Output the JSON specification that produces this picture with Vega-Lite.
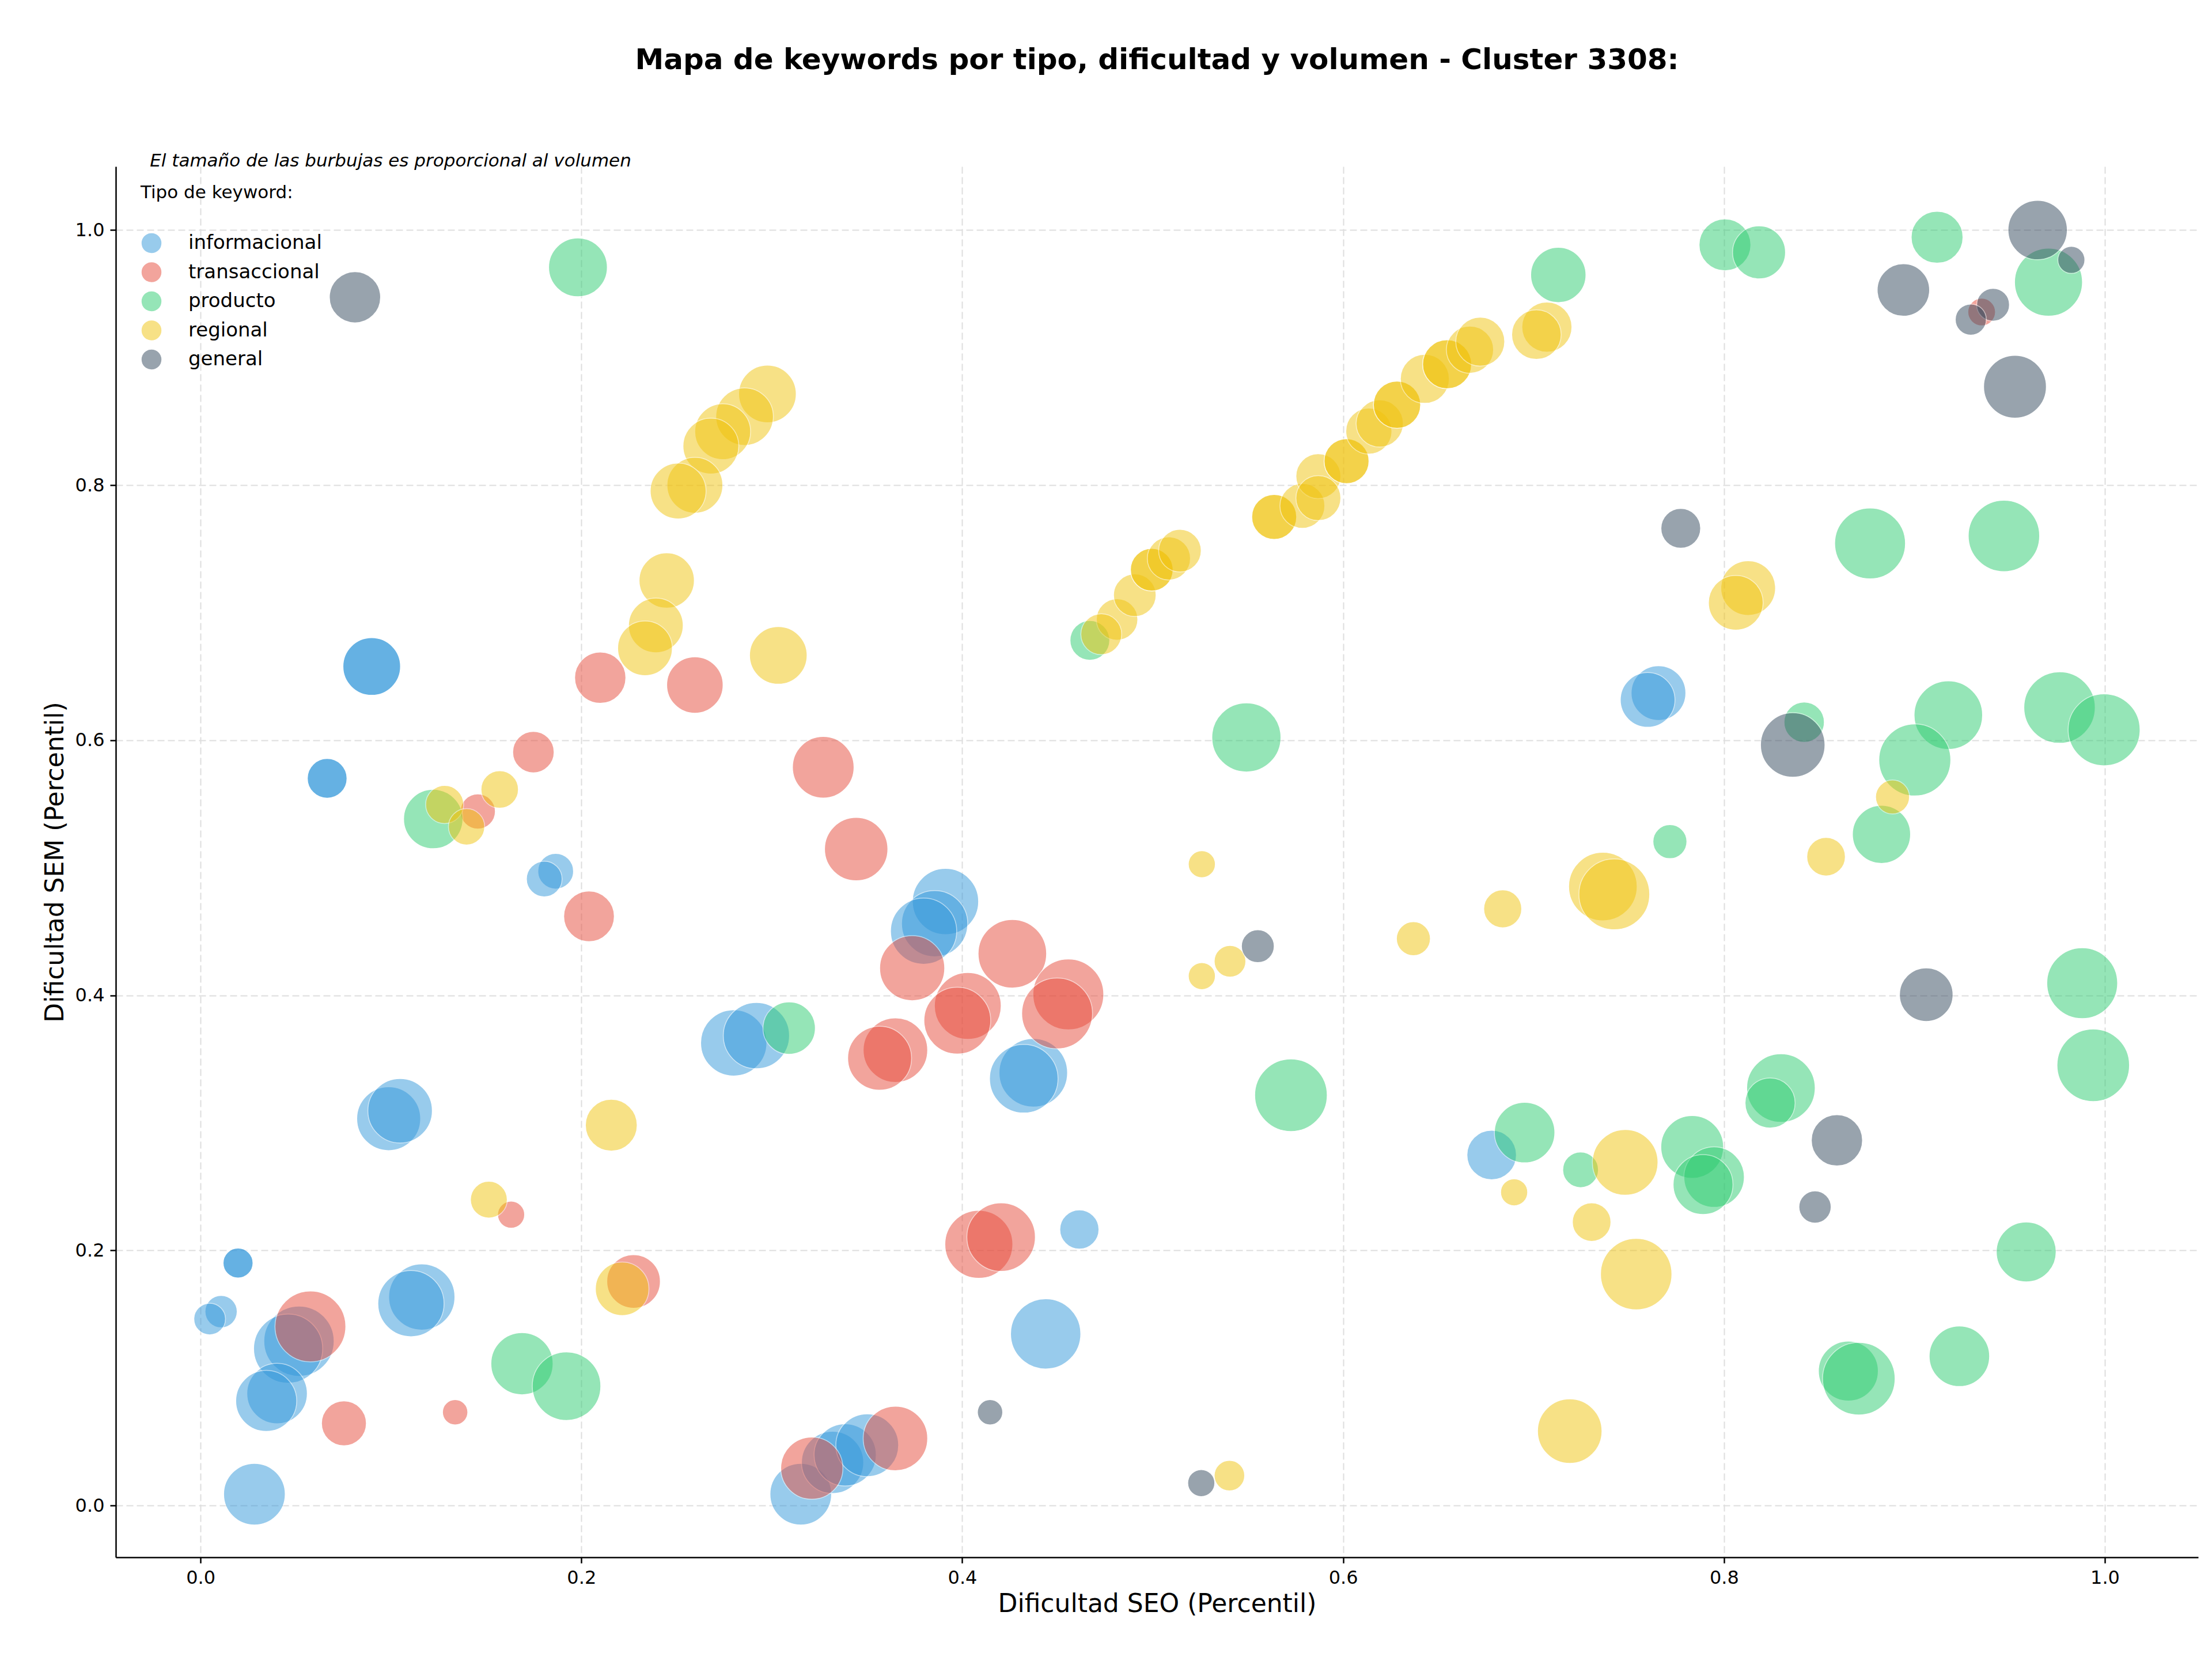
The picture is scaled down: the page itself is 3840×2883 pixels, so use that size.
{
  "$schema": "https://vega.github.io/schema/vega-lite/v6.json",
  "width": 3615,
  "height": 2414,
  "autosize": {"type": "none"},
  "padding": {"left": 201, "top": 289, "right": 24, "bottom": 180},
  "background": "white",
  "title": {
    "text": "Mapa de keywords por tipo, dificultad y volumen - Cluster 3308:",
    "font": "DejaVu Sans",
    "fontSize": 50,
    "fontWeight": "bold",
    "color": "black",
    "anchor": "middle",
    "baseline": "alphabetic",
    "offset": 94
  },
  "config": {
    "font": "DejaVu Sans",
    "view": {"stroke": null},
    "axis": {
      "labelFont": "DejaVu Sans",
      "labelFontSize": 32,
      "labelColor": "black",
      "titleFont": "DejaVu Sans",
      "titleFontSize": 44,
      "titleFontWeight": "normal",
      "titleColor": "black",
      "domainColor": "black",
      "domainWidth": 2.5,
      "tickColor": "black",
      "tickWidth": 2.5,
      "tickSize": 10,
      "labelPadding": 10,
      "grid": true,
      "gridColor": "#dedede",
      "gridWidth": 2,
      "gridDash": [12, 6]
    },
    "legend": {
      "orient": "none",
      "legendX": 43,
      "legendY": 31,
      "padding": 0,
      "titleFont": "DejaVu Sans",
      "titleFontSize": 31,
      "titleFontWeight": "normal",
      "titleColor": "black",
      "titlePadding": 52,
      "titleLimit": 800,
      "labelFont": "DejaVu Sans",
      "labelFontSize": 34,
      "labelColor": "black",
      "labelLimit": 800,
      "labelOffset": 45,
      "rowPadding": 8.5,
      "symbolType": "circle",
      "symbolSize": 1296,
      "symbolOpacity": 0.5,
      "symbolStrokeColor": "white",
      "symbolStrokeWidth": 1.5
    }
  },
  "layer": [
    {
      "data": {
        "values": [
          {"tipo": "informacional", "seo": 0.0899, "sem": 0.6578, "volumen": 6250},
          {"tipo": "informacional", "seo": 0.0899, "sem": 0.6578, "volumen": 6250},
          {"tipo": "informacional", "seo": 0.0665, "sem": 0.5701, "volumen": 2976},
          {"tipo": "informacional", "seo": 0.0665, "sem": 0.5701, "volumen": 2976},
          {"tipo": "informacional", "seo": 0.0197, "sem": 0.1901, "volumen": 1690},
          {"tipo": "informacional", "seo": 0.0197, "sem": 0.1901, "volumen": 1690},
          {"tipo": "informacional", "seo": 0.1865, "sem": 0.4973, "volumen": 2403},
          {"tipo": "informacional", "seo": 0.1805, "sem": 0.4912, "volumen": 2403},
          {"tipo": "informacional", "seo": 0.2800, "sem": 0.3627, "volumen": 8266},
          {"tipo": "informacional", "seo": 0.2919, "sem": 0.3684, "volumen": 8266},
          {"tipo": "informacional", "seo": 0.0988, "sem": 0.3033, "volumen": 7701},
          {"tipo": "informacional", "seo": 0.1048, "sem": 0.3095, "volumen": 7840},
          {"tipo": "informacional", "seo": 0.0108, "sem": 0.1520, "volumen": 1960},
          {"tipo": "informacional", "seo": 0.0048, "sem": 0.1462, "volumen": 1891},
          {"tipo": "informacional", "seo": 0.1162, "sem": 0.1635, "volumen": 8266},
          {"tipo": "informacional", "seo": 0.1105, "sem": 0.1583, "volumen": 8266},
          {"tipo": "informacional", "seo": 0.0517, "sem": 0.1288, "volumen": 9303},
          {"tipo": "informacional", "seo": 0.0460, "sem": 0.1230, "volumen": 9000},
          {"tipo": "informacional", "seo": 0.0402, "sem": 0.0878, "volumen": 6891},
          {"tipo": "informacional", "seo": 0.0345, "sem": 0.0820, "volumen": 7023},
          {"tipo": "informacional", "seo": 0.0283, "sem": 0.0089, "volumen": 7156},
          {"tipo": "informacional", "seo": 0.3152, "sem": 0.0089, "volumen": 7156},
          {"tipo": "informacional", "seo": 0.3319, "sem": 0.0338, "volumen": 7290},
          {"tipo": "informacional", "seo": 0.3385, "sem": 0.0397, "volumen": 7290},
          {"tipo": "informacional", "seo": 0.3501, "sem": 0.0473, "volumen": 7426},
          {"tipo": "informacional", "seo": 0.6780, "sem": 0.2748, "volumen": 4623},
          {"tipo": "informacional", "seo": 0.4615, "sem": 0.2164, "volumen": 2890},
          {"tipo": "informacional", "seo": 0.4438, "sem": 0.1346, "volumen": 9303},
          {"tipo": "informacional", "seo": 0.3912, "sem": 0.4735, "volumen": 8266},
          {"tipo": "informacional", "seo": 0.3855, "sem": 0.4562, "volumen": 8266},
          {"tipo": "informacional", "seo": 0.3797, "sem": 0.4503, "volumen": 8266},
          {"tipo": "informacional", "seo": 0.4373, "sem": 0.3393, "volumen": 8851},
          {"tipo": "informacional", "seo": 0.4323, "sem": 0.3346, "volumen": 8851},
          {"tipo": "informacional", "seo": 0.7656, "sem": 0.6370, "volumen": 5641},
          {"tipo": "informacional", "seo": 0.7599, "sem": 0.6316, "volumen": 5641},

          {"tipo": "transaccional", "seo": 0.2099, "sem": 0.6490, "volumen": 4951},
          {"tipo": "transaccional", "seo": 0.2596, "sem": 0.6433, "volumen": 6003},
          {"tipo": "transaccional", "seo": 0.1748, "sem": 0.5907, "volumen": 3240},
          {"tipo": "transaccional", "seo": 0.3270, "sem": 0.5788, "volumen": 7156},
          {"tipo": "transaccional", "seo": 0.1456, "sem": 0.5441, "volumen": 2326},
          {"tipo": "transaccional", "seo": 0.2040, "sem": 0.4619, "volumen": 4840},
          {"tipo": "transaccional", "seo": 0.3443, "sem": 0.5146, "volumen": 7563},
          {"tipo": "transaccional", "seo": 0.3737, "sem": 0.4213, "volumen": 7981},
          {"tipo": "transaccional", "seo": 0.4263, "sem": 0.4326, "volumen": 8851},
          {"tipo": "transaccional", "seo": 0.4029, "sem": 0.3917, "volumen": 8410},
          {"tipo": "transaccional", "seo": 0.3974, "sem": 0.3802, "volumen": 8410},
          {"tipo": "transaccional", "seo": 0.4557, "sem": 0.4007, "volumen": 9456},
          {"tipo": "transaccional", "seo": 0.4498, "sem": 0.3858, "volumen": 9456},
          {"tipo": "transaccional", "seo": 0.3649, "sem": 0.3570, "volumen": 7840},
          {"tipo": "transaccional", "seo": 0.3566, "sem": 0.3507, "volumen": 7701},
          {"tipo": "transaccional", "seo": 0.1631, "sem": 0.2280, "volumen": 1381},
          {"tipo": "transaccional", "seo": 0.0577, "sem": 0.1404, "volumen": 9456},
          {"tipo": "transaccional", "seo": 0.0753, "sem": 0.0644, "volumen": 3803},
          {"tipo": "transaccional", "seo": 0.1337, "sem": 0.0731, "volumen": 1210},
          {"tipo": "transaccional", "seo": 0.2274, "sem": 0.1757, "volumen": 5406},
          {"tipo": "transaccional", "seo": 0.4087, "sem": 0.2048, "volumen": 8703},
          {"tipo": "transaccional", "seo": 0.4204, "sem": 0.2104, "volumen": 8851},
          {"tipo": "transaccional", "seo": 0.3210, "sem": 0.0293, "volumen": 7290},
          {"tipo": "transaccional", "seo": 0.3649, "sem": 0.0526, "volumen": 7840},
          {"tipo": "transaccional", "seo": 0.9353, "sem": 0.9357, "volumen": 1440},

          {"tipo": "producto", "seo": 0.1982, "sem": 0.9707, "volumen": 6503},
          {"tipo": "producto", "seo": 0.7130, "sem": 0.9648, "volumen": 5760},
          {"tipo": "producto", "seo": 0.8005, "sem": 0.9884, "volumen": 5063},
          {"tipo": "producto", "seo": 0.8184, "sem": 0.9825, "volumen": 5290},
          {"tipo": "producto", "seo": 0.9119, "sem": 0.9943, "volumen": 5063},
          {"tipo": "producto", "seo": 0.9704, "sem": 0.9591, "volumen": 8703},
          {"tipo": "producto", "seo": 0.8767, "sem": 0.7543, "volumen": 9456},
          {"tipo": "producto", "seo": 0.9470, "sem": 0.7602, "volumen": 9610},
          {"tipo": "producto", "seo": 0.4670, "sem": 0.6783, "volumen": 2976},
          {"tipo": "producto", "seo": 0.5492, "sem": 0.6022, "volumen": 9000},
          {"tipo": "producto", "seo": 0.1222, "sem": 0.5382, "volumen": 6631},
          {"tipo": "producto", "seo": 0.3091, "sem": 0.3743, "volumen": 5176},
          {"tipo": "producto", "seo": 0.1688, "sem": 0.1112, "volumen": 7290},
          {"tipo": "producto", "seo": 0.1922, "sem": 0.0936, "volumen": 8851},
          {"tipo": "producto", "seo": 0.5726, "sem": 0.3217, "volumen": 9923},
          {"tipo": "producto", "seo": 0.8421, "sem": 0.6141, "volumen": 3063},
          {"tipo": "producto", "seo": 0.9178, "sem": 0.6197, "volumen": 8851},
          {"tipo": "producto", "seo": 0.9002, "sem": 0.5845, "volumen": 9766},
          {"tipo": "producto", "seo": 0.9762, "sem": 0.6256, "volumen": 9610},
          {"tipo": "producto", "seo": 0.9996, "sem": 0.6082, "volumen": 9766},
          {"tipo": "producto", "seo": 0.8827, "sem": 0.5262, "volumen": 6376},
          {"tipo": "producto", "seo": 0.7716, "sem": 0.5205, "volumen": 2176},
          {"tipo": "producto", "seo": 0.9881, "sem": 0.4095, "volumen": 9456},
          {"tipo": "producto", "seo": 0.9939, "sem": 0.3452, "volumen": 9923},
          {"tipo": "producto", "seo": 0.8299, "sem": 0.3273, "volumen": 8851},
          {"tipo": "producto", "seo": 0.8242, "sem": 0.3156, "volumen": 4731},
          {"tipo": "producto", "seo": 0.6953, "sem": 0.2924, "volumen": 6891},
          {"tipo": "producto", "seo": 0.7247, "sem": 0.2632, "volumen": 2403},
          {"tipo": "producto", "seo": 0.7833, "sem": 0.2811, "volumen": 7426},
          {"tipo": "producto", "seo": 0.7948, "sem": 0.2575, "volumen": 6891},
          {"tipo": "producto", "seo": 0.7890, "sem": 0.2517, "volumen": 6760},
          {"tipo": "producto", "seo": 0.9587, "sem": 0.1988, "volumen": 6760},
          {"tipo": "producto", "seo": 0.9236, "sem": 0.1170, "volumen": 6891},
          {"tipo": "producto", "seo": 0.8653, "sem": 0.1054, "volumen": 6760},
          {"tipo": "producto", "seo": 0.8708, "sem": 0.0994, "volumen": 9923},

          {"tipo": "regional", "seo": 0.2977, "sem": 0.8715, "volumen": 6250},
          {"tipo": "regional", "seo": 0.2857, "sem": 0.8537, "volumen": 6250},
          {"tipo": "regional", "seo": 0.2742, "sem": 0.8419, "volumen": 5881},
          {"tipo": "regional", "seo": 0.2680, "sem": 0.8306, "volumen": 5881},
          {"tipo": "regional", "seo": 0.2596, "sem": 0.7999, "volumen": 5881},
          {"tipo": "regional", "seo": 0.2508, "sem": 0.7954, "volumen": 5881},
          {"tipo": "regional", "seo": 0.2448, "sem": 0.7252, "volumen": 5760},
          {"tipo": "regional", "seo": 0.2391, "sem": 0.6900, "volumen": 5641},
          {"tipo": "regional", "seo": 0.2334, "sem": 0.6721, "volumen": 5641},
          {"tipo": "regional", "seo": 0.3034, "sem": 0.6665, "volumen": 6250},
          {"tipo": "regional", "seo": 0.1282, "sem": 0.5496, "volumen": 2723},
          {"tipo": "regional", "seo": 0.1397, "sem": 0.5321, "volumen": 2481},
          {"tipo": "regional", "seo": 0.1571, "sem": 0.5614, "volumen": 2641},
          {"tipo": "regional", "seo": 0.2157, "sem": 0.2982, "volumen": 5063},
          {"tipo": "regional", "seo": 0.1514, "sem": 0.2398, "volumen": 2560},
          {"tipo": "regional", "seo": 0.2214, "sem": 0.1699, "volumen": 5406},
          {"tipo": "regional", "seo": 0.4813, "sem": 0.6947, "volumen": 3240},
          {"tipo": "regional", "seo": 0.4730, "sem": 0.6831, "volumen": 3151},
          {"tipo": "regional", "seo": 0.4906, "sem": 0.7137, "volumen": 3423},
          {"tipo": "regional", "seo": 0.4995, "sem": 0.7337, "volumen": 3423},
          {"tipo": "regional", "seo": 0.4995, "sem": 0.7337, "volumen": 3423},
          {"tipo": "regional", "seo": 0.5085, "sem": 0.7425, "volumen": 3516},
          {"tipo": "regional", "seo": 0.5143, "sem": 0.7486, "volumen": 3423},
          {"tipo": "regional", "seo": 0.5638, "sem": 0.7751, "volumen": 3803},
          {"tipo": "regional", "seo": 0.5638, "sem": 0.7751, "volumen": 3803},
          {"tipo": "regional", "seo": 0.5786, "sem": 0.7838, "volumen": 3803},
          {"tipo": "regional", "seo": 0.5870, "sem": 0.8070, "volumen": 3803},
          {"tipo": "regional", "seo": 0.5870, "sem": 0.7898, "volumen": 3803},
          {"tipo": "regional", "seo": 0.6018, "sem": 0.8188, "volumen": 3803},
          {"tipo": "regional", "seo": 0.6018, "sem": 0.8188, "volumen": 3803},
          {"tipo": "regional", "seo": 0.6135, "sem": 0.8424, "volumen": 4000},
          {"tipo": "regional", "seo": 0.6192, "sem": 0.8483, "volumen": 4203},
          {"tipo": "regional", "seo": 0.6283, "sem": 0.8630, "volumen": 4203},
          {"tipo": "regional", "seo": 0.6283, "sem": 0.8630, "volumen": 4203},
          {"tipo": "regional", "seo": 0.6429, "sem": 0.8833, "volumen": 4516},
          {"tipo": "regional", "seo": 0.6546, "sem": 0.8948, "volumen": 4516},
          {"tipo": "regional", "seo": 0.6546, "sem": 0.8948, "volumen": 4516},
          {"tipo": "regional", "seo": 0.6666, "sem": 0.9062, "volumen": 4203},
          {"tipo": "regional", "seo": 0.6720, "sem": 0.9125, "volumen": 4516},
          {"tipo": "regional", "seo": 0.7070, "sem": 0.9239, "volumen": 4731},
          {"tipo": "regional", "seo": 0.7015, "sem": 0.9180, "volumen": 4623},
          {"tipo": "regional", "seo": 0.8127, "sem": 0.7193, "volumen": 5641},
          {"tipo": "regional", "seo": 0.8062, "sem": 0.7078, "volumen": 5641},
          {"tipo": "regional", "seo": 0.5258, "sem": 0.5028, "volumen": 1381},
          {"tipo": "regional", "seo": 0.5258, "sem": 0.4151, "volumen": 1381},
          {"tipo": "regional", "seo": 0.5406, "sem": 0.4267, "volumen": 1891},
          {"tipo": "regional", "seo": 0.6369, "sem": 0.4444, "volumen": 2176},
          {"tipo": "regional", "seo": 0.6838, "sem": 0.4678, "volumen": 2723},
          {"tipo": "regional", "seo": 0.7364, "sem": 0.4853, "volumen": 8851},
          {"tipo": "regional", "seo": 0.7424, "sem": 0.4792, "volumen": 9456},
          {"tipo": "regional", "seo": 0.8885, "sem": 0.5555, "volumen": 2176},
          {"tipo": "regional", "seo": 0.8536, "sem": 0.5087, "volumen": 2806},
          {"tipo": "regional", "seo": 0.6898, "sem": 0.2456, "volumen": 1381},
          {"tipo": "regional", "seo": 0.7481, "sem": 0.2690, "volumen": 8123},
          {"tipo": "regional", "seo": 0.7305, "sem": 0.2222, "volumen": 2806},
          {"tipo": "regional", "seo": 0.7539, "sem": 0.1814, "volumen": 9610},
          {"tipo": "regional", "seo": 0.7190, "sem": 0.0583, "volumen": 7840},
          {"tipo": "regional", "seo": 0.5403, "sem": 0.0234, "volumen": 1756},

          {"tipo": "general", "seo": 0.0811, "sem": 0.9473, "volumen": 4951},
          {"tipo": "general", "seo": 0.9647, "sem": 1.0000, "volumen": 6631},
          {"tipo": "general", "seo": 0.8942, "sem": 0.9530, "volumen": 5176},
          {"tipo": "general", "seo": 0.9824, "sem": 0.9766, "volumen": 1381},
          {"tipo": "general", "seo": 0.9413, "sem": 0.9414, "volumen": 2031},
          {"tipo": "general", "seo": 0.9296, "sem": 0.9298, "volumen": 1823},
          {"tipo": "general", "seo": 0.9528, "sem": 0.8771, "volumen": 7426},
          {"tipo": "general", "seo": 0.7773, "sem": 0.7661, "volumen": 2976},
          {"tipo": "general", "seo": 0.8361, "sem": 0.5963, "volumen": 7840},
          {"tipo": "general", "seo": 0.5552, "sem": 0.4385, "volumen": 2031},
          {"tipo": "general", "seo": 0.9062, "sem": 0.4005, "volumen": 5406},
          {"tipo": "general", "seo": 0.8593, "sem": 0.2863, "volumen": 4951},
          {"tipo": "general", "seo": 0.8478, "sem": 0.2340, "volumen": 1960},
          {"tipo": "general", "seo": 0.4146, "sem": 0.0731, "volumen": 1210},
          {"tipo": "general", "seo": 0.5255, "sem": 0.0176, "volumen": 1381}
        ]
      },
      "mark": {"type": "circle", "opacity": 0.5, "stroke": "white", "strokeWidth": 1.5},
      "encoding": {
        "x": {
          "field": "seo",
          "type": "quantitative",
          "scale": {"domain": [-0.0445, 1.049], "nice": false, "zero": false},
          "axis": {"title": "Dificultad SEO (Percentil)", "values": [0, 0.2, 0.4, 0.6, 0.8, 1.0], "format": ".1f", "titlePadding": 8}
        },
        "y": {
          "field": "sem",
          "type": "quantitative",
          "scale": {"domain": [-0.0406, 1.0498], "nice": false, "zero": false},
          "axis": {"title": "Dificultad SEM (Percentil)", "values": [0, 0.2, 0.4, 0.6, 0.8, 1.0], "format": ".1f", "titlePadding": 12}
        },
        "color": {
          "field": "tipo",
          "type": "nominal",
          "sort": ["informacional", "transaccional", "producto", "regional", "general"],
          "scale": {
            "domain": ["informacional", "transaccional", "producto", "regional", "general"],
            "range": ["#3498db", "#e74c3c", "#2ecc71", "#f1c40f", "#34495e"]
          },
          "legend": {"title": "Tipo de keyword:"}
        },
        "size": {
          "field": "volumen",
          "type": "quantitative",
          "scale": {"type": "linear", "domain": [0, 10000], "range": [0, 16000], "zero": true},
          "legend": null
        }
      }
    },
    {
      "data": {"values": [{"nota": "El tamaño de las burbujas es proporcional al volumen"}]},
      "mark": {"type": "text", "align": "left", "baseline": "alphabetic", "font": "DejaVu Sans", "fontSize": 31, "fontStyle": "italic", "color": "black"},
      "encoding": {
        "text": {"field": "nota"},
        "x": {"datum": -0.0266, "type": "quantitative"},
        "y": {"datum": 1.0497, "type": "quantitative"}
      }
    }
  ]
}
